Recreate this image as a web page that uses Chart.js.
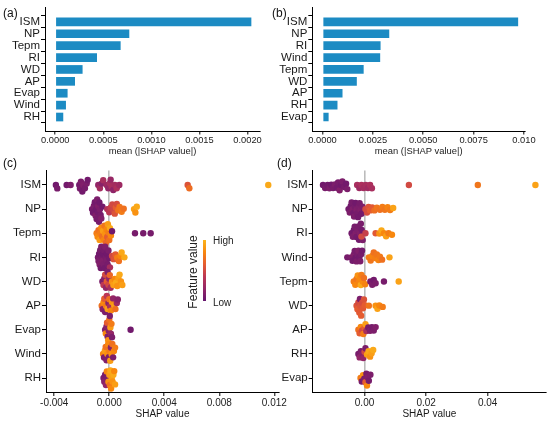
<!DOCTYPE html>
<html lang="en">
  <head>
    <meta charset="UTF-8" />
    <title>SHAP importance and beeswarm</title>
    <style>
      body {
        margin: 0;
        width: 550px;
        height: 423px;
        position: relative;
        overflow: hidden;
        background: #fff;
        font-family: "Liberation Sans", Arial, sans-serif;
      }
      canvas {
        position: absolute;
      }
      .tag {
        position: absolute;
        font-size: 12px;
        line-height: 14px;
        color: #111;
      }
      .cb-text {
        position: absolute;
        font-size: 10px;
        line-height: 12px;
        color: #222;
      }
      #cbar {
        position: absolute;
        left: 203px;
        top: 240px;
        width: 3px;
        height: 61px;
      }
      #cbtitle {
        position: absolute;
        left: 193px;
        top: 272px;
        font-size: 12px;
        line-height: 14px;
        white-space: nowrap;
        color: #222;
        transform: translate(-50%, -50%) rotate(-90deg);
      }
    </style>
    <script src="https://cdn.jsdelivr.net/npm/chart.js"></script>
  </head>
  <body>
    <canvas id="chartA" width="276" height="157" style="left:0;top:0"></canvas>
    <canvas id="chartB" width="274" height="157" style="left:276px;top:0"></canvas>
    <canvas id="chartC" width="292" height="266" style="left:0;top:157px"></canvas>
    <canvas id="chartD" width="274" height="266" style="left:276px;top:157px"></canvas>

    <div class="tag" style="left:3px;top:6px">(a)</div>
    <div class="tag" style="left:272px;top:6px">(b)</div>
    <div class="tag" style="left:3px;top:156px">(c)</div>
    <div class="tag" style="left:277px;top:156px">(d)</div>

    <div id="cbar"></div>
    <div id="cbtitle">Feature value</div>
    <div class="cb-text" style="left:213px;top:235px">High</div>
    <div class="cb-text" style="left:213px;top:297px">Low</div>

    <script>
      // bar panels: mean(|SHAP value|)
      const aLabels = ["ISM", "NP", "Tepm", "RI", "WD", "AP", "Evap", "Wind", "RH"];
      const aValues = [0.00204, 0.00077, 0.00068, 0.000434, 0.000284, 0.000205, 0.000128, 0.000111, 0.000083];
      const aTicks = [0, 0.0005, 0.001, 0.0015, 0.002];
      const aTickLabels = ["0.0000", "0.0005", "0.0010", "0.0015", "0.0020"];

      const bLabels = ["ISM", "NP", "RI", "Wind", "Tepm", "WD", "AP", "RH", "Evap"];
      const bValues = [0.00971, 0.00331, 0.00288, 0.00286, 0.00204, 0.0017, 0.00099, 0.00074, 0.0003];
      const bTicks = [0, 0.0025, 0.005, 0.0075, 0.01];
      const bTickLabels = ["0.0000", "0.0025", "0.0050", "0.0075", "0.010"];

      // beeswarm panels: [SHAP value x 1e-3, feature value 0 (low) .. 1 (high)]
      const cLabels = ["ISM", "NP", "Tepm", "RI", "WD", "AP", "Evap", "Wind", "RH"];
      const cISM = [[-3.88,.05],[-3.78,.08],[-3.1,.06],[-2.81,.1],[-2.18,.05],[-2.13,.08],[-2.06,.1],[-1.96,.06],[-1.89,.12],[-1.77,.08],[-1.64,.1],[-1.57,.06],
        [-0.8,.2],[-0.68,.28],[-0.55,.15],[-0.44,.3],[-0.19,.25],[-0.07,.2],[0.05,.3],[0.1,.22],[0.17,.3],[0.29,.18],[0.41,.28],[0.54,.32],[0.73,.25],
        [5.7,.55],[5.82,.68],[11.56,.95]];
      const cNP = [[-1.25,.08],[-1.18,.05],[-1.12,.1],[-1.05,.06],[-1.0,.12],[-0.95,.05],[-0.92,.08],[-0.88,.1],[-0.83,.06],[-0.8,.12],[-0.75,.08],[-0.72,.05],[-0.68,.1],[-0.63,.08],[-0.58,.12],[-0.5,.06],
        [-0.15,.35],[0.0,.4],[0.1,.45],[0.22,.5],[0.3,.48],[0.4,.55],[0.48,.6],[0.55,.52],[0.65,.7],[0.75,.72],[0.9,.75],[1.05,.7],[1.8,.92],[1.9,.85],[2.0,.95]];
      const cTepm = [[-0.92,.75],[-0.85,.8],[-0.78,.7],[-0.7,.88],[-0.65,.75],[-0.58,.82],[-0.52,.7],[-0.45,.9],[-0.4,.78],[-0.35,.72],[-0.3,.85],[-0.25,.65],[-0.2,.8],[-0.15,.6],[-0.1,.9],[-0.05,.75],[0.0,.7],[0.05,.95],[0.12,.8],[0.2,.05],
        [1.87,.08],[2.47,.08],[3.01,.08]];
      const cRI = [[-0.82,.08],[-0.78,.1],[-0.74,.05],[-0.7,.12],[-0.66,.08],[-0.62,.06],[-0.58,.1],[-0.54,.08],[-0.5,.12],[-0.46,.05],[-0.42,.1],[-0.38,.08],[-0.34,.06],[-0.3,.12],[-0.26,.08],[-0.22,.1],[-0.18,.05],[-0.12,.08],[-0.06,.1],[0.0,.06],[0.05,.3],
        [0.2,.5],[0.32,.55],[0.45,.6],[0.58,.75],[0.7,.7],[0.82,.8],[0.9,.95],[1.1,.95]];
      const cWD = [[-0.5,.1],[-0.42,.4],[-0.36,.15],[-0.3,.5],[-0.24,.2],[-0.18,.6],[-0.12,.1],[-0.06,.5],[0.0,.2],[0.04,.65],[0.1,.3],[0.2,.85],[0.3,.9],[0.4,.8],[0.5,.95],[0.58,.85],[0.66,.9],[0.75,.95],[0.85,.85],[0.95,.9]];
      const cAP = [[-0.55,.7],[-0.48,.15],[-0.42,.8],[-0.36,.6],[-0.3,.1],[-0.24,.75],[-0.18,.4],[-0.12,.9],[-0.06,.15],[0.0,.7],[0.06,.3],[0.12,.8],[0.2,.85],[0.28,.2],[0.36,.9],[0.45,.7],[0.55,.25],[0.62,.15]];
      const cEvap = [[-0.3,.1],[-0.25,.8],[-0.2,.15],[-0.16,.6],[-0.12,.1],[-0.08,.85],[-0.04,.15],[0.0,.7],[0.04,.1],[0.08,.9],[0.12,.2],[0.16,.75],[0.2,.1],[1.55,.05]];
      const cWind = [[-0.45,.8],[-0.38,.1],[-0.32,.9],[-0.26,.7],[-0.2,.12],[-0.14,.85],[-0.08,.8],[-0.03,.1],[0.02,.75],[0.07,.9],[0.12,.15],[0.17,.85],[0.22,.7],[0.28,.1],[0.34,.8],[0.42,.75]];
      const cRH = [[-0.42,.1],[-0.36,.15],[-0.3,.08],[-0.24,.2],[-0.18,.8],[-0.12,.1],[-0.06,.85],[0.0,.9],[0.04,.7],[0.08,.95],[0.13,.8],[0.18,.9],[0.24,.85],[0.3,.95],[0.36,.8],[0.42,.9]];
      const cTicks = [-0.004, 0, 0.004, 0.008, 0.012];
      const cTickLabels = ["-0.004", "0.000", "0.004", "0.008", "0.012"];

      const dLabels = ["ISM", "NP", "RI", "Wind", "Tepm", "WD", "AP", "RH", "Evap"];
      const dISM = [[-13.5,.05],[-12.8,.08],[-12.0,.06],[-11.4,.1],[-10.8,.05],[-10.2,.08],[-9.6,.1],[-9.0,.06],[-8.6,.08],[-8.1,.12],[-7.6,.05],[-7.2,.1],[-6.6,.08],[-6.0,.06],[-5.6,.1],
        [-2.4,.3],[-1.7,.25],[-1.0,.32],[-0.3,.28],[0.4,.3],[1.1,.26],[1.8,.32],[2.4,.3],
        [14.4,.5],[36.8,.72],[55.5,.92]];
      const dNP = [[-5.2,.06],[-4.8,.1],[-4.5,.05],[-4.2,.08],[-3.9,.12],[-3.6,.06],[-3.4,.1],[-3.1,.08],[-2.9,.05],[-2.6,.12],[-2.4,.08],[-2.1,.06],[-1.9,.1],[-1.6,.08],[-1.3,.12],[-1.0,.06],[-0.7,.1],
        [0.3,.5],[0.8,.52],[1.3,.55],[1.8,.6],[2.5,.58],[3.2,.68],[4.0,.72],[5.0,.7],[5.8,.75],[6.6,.72],[7.5,.78],[8.3,.75],[9.3,.92]];
      const dRI = [[-4.2,.06],[-3.8,.1],[-3.5,.05],[-3.2,.08],[-2.9,.12],[-2.6,.06],[-2.3,.1],[-2.0,.08],[-1.8,.05],[-1.5,.12],[-1.2,.08],[-0.9,.06],[-0.6,.1],
        [-1.0,.5],[0.3,.45],[3.6,.58],[4.8,.85],[5.5,.95],[6.3,.8],[7.0,.9],[7.8,.75],[8.9,.8]];
      const dWind = [[-5.6,.08],[-4.3,.1],[-3.9,.06],[-3.5,.12],[-3.2,.08],[-2.9,.05],[-2.6,.1],[-2.3,.08],[-2.0,.12],[-1.7,.06],[-1.4,.1],[-1.1,.08],[-0.8,.06],
        [1.4,.75],[2.0,.72],[2.5,.78],[3.0,.7],[3.5,.76],[4.0,.72],[4.5,.78],[5.0,.74],[5.7,.7],[8.1,.92]];
      const dTepm = [[-3.5,.75],[-3.0,.8],[-2.6,.72],[-2.2,.85],[-1.8,.78],[-1.4,.8],[-1.2,.95],[-1.0,.75],[-0.6,.82],[-0.2,.7],[0.2,.78],
        [1.9,.08],[2.5,.1],[3.0,.06],[3.6,.1],[6.3,.08],[11.1,.92]];
      const dWD = [[-2.6,.55],[-2.3,.6],[-2.0,.5],[-1.7,.58],[-1.5,.1],[-1.4,.55],[-1.1,.6],[-0.8,.52],[-0.5,.58],[-0.2,.55],[0.1,.6],[1.4,.72],[3.6,.85],[4.2,.92],[4.8,.8],[5.9,.75]];
      const dAP = [[-2.0,.7],[-1.6,.6],[-1.2,.8],[-0.8,.5],[-0.4,.75],[0.0,.6],[0.3,.9],[0.6,.3],[1.2,.08],[1.8,.12],[2.4,.08],[3.0,.1],[3.6,.12]];
      const dRH = [[-2.0,.08],[-1.6,.2],[-1.2,.1],[-0.8,.15],[-0.4,.2],[0.0,.5],[0.3,.1],[0.8,.9],[1.3,.95],[1.8,.85],[2.3,.9],[2.8,.95]];
      const dEvap = [[-1.3,.75],[-0.9,.08],[-0.5,.85],[-0.1,.1],[0.3,.6],[0.6,.08],[0.8,.8],[1.0,.12],[1.4,.08],[1.9,.1]];
      const dTicks = [0, 0.02, 0.04];
      const dTickLabels = ["0.00", "0.02", "0.04"];

      // colour scale (low -> high)
      const stops = [
        [0, [101, 21, 110]],
        [0.2, [147, 38, 103]],
        [0.4, [188, 55, 84]],
        [0.6, [229, 92, 48]],
        [0.8, [248, 135, 14]],
        [1, [251, 180, 29]],
      ];
      function cmap(t) {
        for (let i = 1; i < stops.length; i++) {
          if (t <= stops[i][0]) {
            const [t0, c0] = stops[i - 1];
            const [t1, c1] = stops[i];
            const k = (t - t0) / (t1 - t0);
            const c = c0.map((v, j) => Math.round(v + (c1[j] - v) * k));
            return `rgb(${c[0]},${c[1]},${c[2]})`;
          }
        }
        return "rgb(251,180,29)";
      }
      document.getElementById("cbar").style.background =
        "linear-gradient(to top," + stops.map((s) => cmap(s[0]) + " " + s[0] * 100 + "%").join(",") + ")";

      const FONT = "'Liberation Sans', Arial, sans-serif";
      Chart.defaults.font.family = FONT;
      Chart.defaults.color = "#1a1a1a";

      function yAxis(labels, width) {
        return {
          type: "linear",
          reverse: true,
          min: -0.6,
          max: labels.length - 0.4,
          afterBuildTicks: (s) => { s.ticks = labels.map((_, i) => ({ value: i })); },
          afterFit: (s) => { s.width = width; },
          ticks: { autoSkip: false, padding: 1, font: { size: 11.5 }, color: "#1a1a1a", callback: (v) => labels[v] },
          grid: { drawOnChartArea: false, tickLength: 4, tickColor: "#000", tickWidth: 1 },
          border: { color: "#000", width: 1 },
        };
      }

      function xAxis(o) {
        return {
          type: "linear",
          min: o.min,
          max: o.max,
          afterBuildTicks: (s) => { s.ticks = o.ticks.map((v) => ({ value: v })); },
          afterFit: (s) => { s.height = o.height; },
          ticks: { autoSkip: false, maxRotation: 0, padding: o.pad, font: { size: o.tickSize }, color: "#222",
            callback: (v, i) => o.tickLabels[i] },
          grid: {
            drawOnChartArea: !!o.zero,
            color: (ctx) => (o.zero && ctx.tick && ctx.tick.value === 0 ? "#bcbcbc" : "rgba(0,0,0,0)"),
            lineWidth: 1.6,
            tickLength: 3.5,
            tickColor: "#000",
            tickWidth: 1,
          },
          border: { color: "#000", width: 1 },
          title: { display: true, text: o.title, padding: 0, font: { size: o.titleSize }, color: "#1a1a1a" },
        };
      }

      function barChart(id, labels, values, o) {
        return new Chart(document.getElementById(id), {
          type: "bar",
          data: {
            datasets: [{
              data: values.map((v, i) => ({ x: v, y: i })),
              backgroundColor: "#1c8bc3",
              categoryPercentage: 1,
              barPercentage: 0.73,
            }],
          },
          options: {
            indexAxis: "y",
            responsive: false,
            animation: false,
            layout: { padding: o.padding },
            plugins: { legend: { display: false }, tooltip: { enabled: false } },
            scales: { x: xAxis(o), y: yAxis(labels, o.yWidth) },
          },
        });
      }

      // spread overlapping points of each row sideways (beeswarm layout)
      function swarm(chart, D) {
        const xs = chart.scales.x;
        const ys = chart.scales.y;
        const band = Math.abs(ys.getPixelForValue(1) - ys.getPixelForValue(0));
        const pts = chart.data.datasets[0].data;
        const rows = {};
        pts.forEach((p) => (rows[p.row] = rows[p.row] || []).push(p));
        Object.values(rows).forEach((list) => {
          const placed = [];
          list.slice().sort((a, b) => a.x - b.x).forEach((p) => {
            const px = xs.getPixelForValue(p.x);
            const cands = [0];
            placed.forEach((q) => {
              const dx = px - q.px;
              if (Math.abs(dx) < D) {
                const h = Math.sqrt(D * D - dx * dx);
                cands.push(q.py + h, q.py - h);
              }
            });
            cands.sort((a, b) => Math.abs(a) - Math.abs(b));
            const py = cands.find((c) => placed.every((q) => (px - q.px) ** 2 + (c - q.py) ** 2 >= D * D - 0.01));
            placed.push({ px, py });
            p.y = p.row + py / band;
          });
        });
        chart.update("none");
      }

      function beeChart(id, labels, rows, o) {
        const data = [];
        const colors = [];
        rows.forEach((arr, r) =>
          arr.forEach(([v, f]) => {
            data.push({ x: v / 1000, y: r, row: r });
            colors.push(cmap(f));
          })
        );
        const chart = new Chart(document.getElementById(id), {
          type: "scatter",
          data: { datasets: [{ data, backgroundColor: colors, borderWidth: 0, pointRadius: 3.2 }] },
          options: {
            responsive: false,
            animation: false,
            layout: { padding: o.padding },
            plugins: { legend: { display: false }, tooltip: { enabled: false } },
            scales: { x: xAxis(Object.assign({ zero: true }, o)), y: yAxis(labels, o.yWidth) },
          },
        });
        swarm(chart, 3.7);
        return chart;
      }

      barChart("chartA", aLabels, aValues, {
        min: -0.000107, max: 0.00213, ticks: aTicks, tickLabels: aTickLabels,
        title: "mean (|SHAP value|)", titleSize: 9.4, tickSize: 9.3, pad: 0.5, height: 26,
        yWidth: 45, padding: { top: 4.7, right: 16, bottom: 0, left: 0 },
      });

      barChart("chartB", bLabels, bValues, {
        min: -0.00051, max: 0.01005, ticks: bTicks, tickLabels: bTickLabels,
        title: "mean (|SHAP value|)", titleSize: 9.4, tickSize: 9.3, pad: 0.5, height: 26,
        yWidth: 36.3, padding: { top: 4.7, right: 25, bottom: 0, left: 0 },
      });

      beeChart("chartC", cLabels, [cISM, cNP, cTepm, cRI, cWD, cAP, cEvap, cWind, cRH], {
        min: -0.0046, max: 0.01234, ticks: cTicks, tickLabels: cTickLabels,
        title: "SHAP value", titleSize: 10, tickSize: 10, pad: 1.5, height: 28.2,
        yWidth: 46, padding: { top: 13.5, right: 13, bottom: 2.3, left: 0 },
      });

      beeChart("chartD", dLabels, [dISM, dNP, dRI, dWind, dTepm, dWD, dAP, dRH, dEvap], {
        min: -0.01684, max: 0.05894, ticks: dTicks, tickLabels: dTickLabels,
        title: "SHAP value", titleSize: 10, tickSize: 10, pad: 1.5, height: 28.2,
        yWidth: 36.7, padding: { top: 13.5, right: 4, bottom: 2.3, left: 0 },
      });
    </script>
  </body>
</html>
